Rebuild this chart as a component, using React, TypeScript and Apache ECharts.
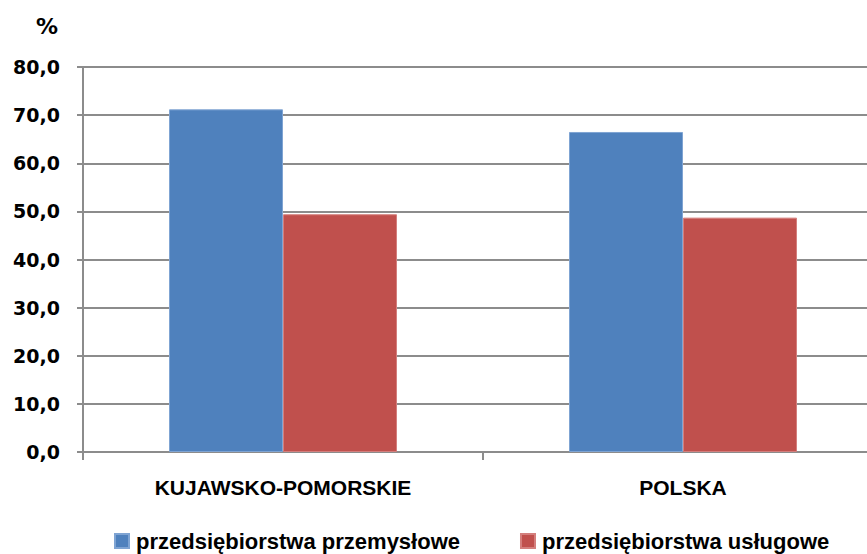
import React, { useEffect, useRef } from "react";
import * as echarts from "echarts";

const categories = ["KUJAWSKO-POMORSKIE", "POLSKA"];
const seriesNames = ["przedsiębiorstwa przemysłowe", "przedsiębiorstwa usługowe"];
const industrial = [71.2, 66.5];
const services = [49.4, 48.7];
const colors = ["#4F81BD", "#C0504D"];

export default function App() {
  const ref = useRef<HTMLDivElement>(null);
  useEffect(() => {
    if (!ref.current) return;
    const chart = echarts.init(ref.current, undefined, { renderer: "svg" });
    const gray = "#8c8c8c";
    chart.setOption({
      animation: false,
      backgroundColor: "#ffffff",
      grid: { left: 83, top: 67, width: 800, height: 385, containLabel: false, outerBoundsMode: "none" },
      graphic: [
        {
          type: "text",
          left: 36,
          top: 15,
          style: { text: "%", font: "bold 22px 'DejaVu Sans'", fill: "#000" },
        },
      ],
      legend: {
        left: 109,
        top: 525,
        itemGap: 60,
        itemWidth: 14,
        itemHeight: 14,
        icon: "rect",
        textStyle: {
          fontFamily: "Liberation Sans",
          fontWeight: "bold",
          fontSize: 22,
          color: "#000",
          padding: [0, 0, 0, 2],
        },
        data: seriesNames,
      },
      xAxis: {
        type: "category",
        data: categories,
        axisLine: { lineStyle: { color: gray, width: 2 } },
        axisTick: { show: true, interval: 0, length: 8, lineStyle: { color: gray, width: 2 } },
        axisLabel: {
          margin: 25,
          interval: 0,
          fontFamily: "Liberation Sans",
          fontWeight: "bold",
          fontSize: 21,
          color: "#000",
        },
      },
      yAxis: {
        type: "value",
        min: 0,
        max: 80,
        interval: 10,
        axisLine: { show: true, lineStyle: { color: gray, width: 2 } },
        axisTick: { show: true, length: 6, lineStyle: { color: gray, width: 2 } },
        splitLine: { lineStyle: { color: gray, width: 2 } },
        axisLabel: {
          margin: 23,
          fontFamily: "DejaVu Sans",
          fontWeight: "bold",
          fontSize: 19,
          color: "#000",
          formatter: (v: number) => v.toFixed(1).replace(".", ","),
        },
      },
      series: [
        {
          name: seriesNames[0],
          type: "bar",
          data: industrial,
          barGap: "0%",
          barCategoryGap: "43%",
          itemStyle: { color: colors[0], borderColor: "#7fa4d3", borderWidth: 1 },
        },
        {
          name: seriesNames[1],
          type: "bar",
          data: services,
          barGap: "0%",
          barCategoryGap: "43%",
          itemStyle: { color: colors[1], borderColor: "#d47f7d", borderWidth: 1 },
        },
      ],
    });
    return () => chart.dispose();
  }, []);
  return (
    <div
      ref={ref}
      style={{ position: "fixed", left: 0, top: 0, width: 867, height: 554, background: "#fff" }}
    />
  );
}
